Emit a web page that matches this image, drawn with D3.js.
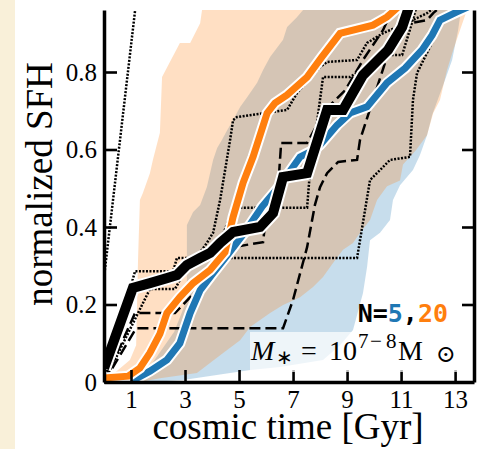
<!DOCTYPE html>
<html>
<head>
<meta charset="utf-8">
<script src="https://cdn.jsdelivr.net/npm/d3@7"></script>
<style>
  html, body { margin: 0; padding: 0; background: #ffffff; }
  svg { display: block; }
</style>
</head>
<body>
<svg id="chart" width="481" height="449"></svg>
<script>
// cosmic time [Gyr], normalized cumulative SFH
const xTicks = [1, 3, 5, 7, 9, 11, 13];
const yTicks = [0, 0.2, 0.4, 0.6, 0.8];

// true (reference) SFH
const trueSFH = [[0,0.035],[1.07,0.243],[1.70,0.255],[2.33,0.268],[2.70,0.276],[3.07,0.302],[3.56,0.32],[3.93,0.333],[4.30,0.359],[4.78,0.387],[5.78,0.40],[6.26,0.436],[6.63,0.529],[7.52,0.539],[8.26,0.702],[8.85,0.702],[9.59,0.792],[10.22,0.836],[10.52,0.857],[11.04,0.916],[11.45,1.0]];

// median recovered SFH, N=20
const medianN20 = [[0,0.01],[0.9,0.015],[1.33,0.036],[1.70,0.075],[2.07,0.124],[2.33,0.178],[2.81,0.219],[3.30,0.255],[3.93,0.289],[4.48,0.335],[4.78,0.426],[5.15,0.514],[5.52,0.581],[6.04,0.694],[6.33,0.72],[6.78,0.741],[7.52,0.787],[8.07,0.839],[8.74,0.90],[9.96,0.921],[10.48,0.942],[10.85,0.965],[11.15,1.0]];

// median recovered SFH, N=5
const medianN5 = [[0.96,0],[1.70,0.028],[2.33,0.057],[2.81,0.10],[3.19,0.178],[3.56,0.237],[4.04,0.281],[4.56,0.327],[5.22,0.387],[5.85,0.452],[6.52,0.508],[7.26,0.581],[7.8,0.600],[8.0,0.612],[8.63,0.663],[9.11,0.694],[9.74,0.71],[10.48,0.772],[11.15,0.81],[11.78,0.857],[12.15,0.895],[12.44,0.934],[13.07,0.955],[13.7,0.975]];

// spread of recovered SFHs, N=20 (upper / lower envelope)
const bandN20Upper = [[0,0],[0.52,0.031],[0.96,0.057],[1.19,0.095],[1.26,0.315],[1.33,0.47],[1.44,0.488],[1.70,0.539],[1.81,0.573],[2.07,0.643],[2.15,0.787],[2.44,0.826],[2.81,0.875],[3.19,0.875],[3.56,0.926],[3.63,0.96],[3.8,1.0]];
const bandN20Lower = [[1.33,0],[2.07,0.01],[3.44,0.023],[4.41,0.075],[5.04,0.108],[5.41,0.142],[6.15,0.178],[6.63,0.199],[7.26,0.219],[7.74,0.245],[8.11,0.271],[8.48,0.307],[8.85,0.341],[9.22,0.359],[9.48,0.385],[9.85,0.418],[10.11,0.47],[10.48,0.505],[10.96,0.52],[11.07,0.561],[11.55,0.598],[11.96,0.637],[12.19,0.694],[12.44,0.728],[12.70,0.805],[12.93,0.857],[13.19,0.91],[13.44,0.96],[13.7,1.0]];

// spread of recovered SFHs, N=5 (upper / lower envelope)
const bandN5Upper = [[1.0,0],[1.8,0.05],[2.6,0.13],[3.07,0.212],[3.07,0.405],[3.30,0.439],[3.56,0.457],[3.81,0.503],[4.04,0.573],[4.19,0.604],[4.37,0.625],[4.56,0.65],[4.78,0.676],[5.04,0.71],[5.30,0.735],[5.67,0.772],[5.89,0.805],[6.15,0.839],[6.63,0.883],[6.78,0.916],[7.15,0.942],[7.37,0.96],[7.63,1.0]];
const bandN5Lower = [[1.70,0],[2.93,0.005],[4.67,0.023],[5.41,0.031],[6.52,0.039],[8.11,0.057],[8.74,0.095],[9.22,0.134],[9.59,0.23],[9.74,0.297],[9.85,0.366],[10.22,0.385],[10.59,0.418],[10.70,0.47],[10.96,0.508],[11.44,0.547],[11.70,0.586],[11.96,0.637],[12.15,0.689],[12.63,0.78],[12.89,0.831],[13.11,0.908],[13.22,0.96],[13.37,1.0]];

// individual input SFHs (dotted)
const dottedSFHs = [
  [[0,0.27],[1.22,1.0]],
  [[0,0],[1.15,0.286],[2.56,0.286],[2.70,0.32],[9.37,0.32],[9.85,0.521],[10.59,0.573],[11.33,0.581],[11.44,0.728],[11.59,0.797],[12.07,0.865],[12.56,0.934],[12.74,0.952],[13.19,0.96],[13.7,0.965]],
  [[0,0],[1.70,0.24],[2.63,0.24],[2.81,0.263],[3.81,0.359],[4.04,0.385],[4.30,0.47],[4.67,0.625],[4.78,0.676],[4.93,0.684],[6.78,0.702],[7.15,0.746],[8.0,0.813],[8.26,0.826],[9.37,0.831],[9.74,0.875],[10.33,0.90],[10.85,0.916],[11.44,0.934],[11.96,0.952],[12.4,0.975]],
  [[0,0.04],[1.07,0.24],[3.56,0.31],[4.3,0.36],[4.78,0.45],[7.52,0.45],[7.6,0.52],[8.11,0.787],[9.11,0.787],[10.48,0.844],[11.04,0.844],[11.33,0.91],[11.7,1.0]]
];

// individual input SFHs (dashed)
const dashedSFHs = [
  [[0,0],[1.19,0.139],[6.63,0.139],[7.0,0.212],[7.52,0.348],[7.81,0.457],[8.0,0.503],[8.26,0.539],[8.67,0.568],[9.37,0.573],[9.48,0.625],[9.96,0.728],[10.48,0.839],[10.85,0.90],[11.33,0.926],[11.96,0.934],[12.19,0.952],[12.63,0.978]],
  [[0,0],[1.15,0.178],[2.63,0.178],[3.44,0.237],[4.41,0.307],[4.78,0.348],[5.89,0.361],[5.96,0.405],[6.44,0.495],[6.56,0.617],[7.52,0.617],[8.19,0.702],[8.93,0.753],[9.59,0.831],[10.33,0.908],[10.67,0.96],[10.9,1.0]]
];

const C_BLUE = "#1f77b4", C_ORANGE = "#ff7f0e";

const svg = d3.select("#chart");

// paper strip on the left edge
svg.append("rect").attr("x", 0).attr("y", 0).attr("width", 15).attr("height", 449).attr("fill", "#f9f0d9");

const x = d3.scaleLinear().domain([0, 13.7]).range([104, 474]);
const y = d3.scaleLinear().domain([0, 0.96]).range([382, 10]);

svg.append("defs").append("clipPath").attr("id", "plotclip")
  .append("rect").attr("x", 104).attr("y", 10).attr("width", 370).attr("height", 372);

const plot = svg.append("g").attr("clip-path", "url(#plotclip)");

const line = d3.line().x(d => x(d[0])).y(d => y(d[1]));
const band = (upper, lower) => line(upper.concat(lower.slice().reverse())) + "Z";

plot.append("path").attr("d", band(bandN5Upper, bandN5Lower))
  .attr("fill", C_BLUE).attr("fill-opacity", 0.25);
plot.append("path").attr("d", band(bandN20Upper, bandN20Lower))
  .attr("fill", C_ORANGE).attr("fill-opacity", 0.25);

dottedSFHs.forEach(s => plot.append("path").attr("d", line(s))
  .attr("fill", "none").attr("stroke", "#000").attr("stroke-width", 2.5)
  .attr("stroke-dasharray", "2,1.5"));
dashedSFHs.forEach(s => plot.append("path").attr("d", line(s))
  .attr("fill", "none").attr("stroke", "#000").attr("stroke-width", 2.5)
  .attr("stroke-dasharray", "11,5"));

function outlined(data, color, w, halo) {
  plot.append("path").attr("d", line(data)).attr("fill", "none")
    .attr("stroke", "#fff").attr("stroke-width", w + halo).attr("stroke-linejoin", "miter");
  plot.append("path").attr("d", line(data)).attr("fill", "none")
    .attr("stroke", color).attr("stroke-width", w).attr("stroke-linejoin", "miter");
}
outlined(medianN5, C_BLUE, 7, 4);
outlined(medianN20, C_ORANGE, 7, 4);
outlined(trueSFH, "#000", 10, 4);

// axes
const serif = "'Liberation Serif', 'Times New Roman', serif";
const gx = svg.append("g").attr("transform", "translate(0,382)")
  .call(d3.axisBottom(x).tickValues(xTicks).tickSize(-12).tickSizeOuter(0).tickPadding(8).tickFormat(d3.format("d")));
const gy = svg.append("g").attr("transform", "translate(104,0)")
  .call(d3.axisLeft(y).tickValues(yTicks).tickSize(-13).tickSizeOuter(0).tickPadding(7)
    .tickFormat(d => d === 0 ? "0" : d.toFixed(1)));
const gr = svg.append("g").attr("transform", "translate(474,0)")
  .call(d3.axisRight(y).tickValues(yTicks.slice(1)).tickSize(-12).tickSizeOuter(0).tickFormat(""));

[gx, gy, gr].forEach(g => {
  g.attr("font-family", serif).attr("font-size", 25);
  g.select(".domain").attr("stroke", "#000").attr("stroke-width", 3.5);
  g.selectAll(".tick line").attr("stroke", "#000").attr("stroke-width", 2.6);
  g.selectAll(".tick text").attr("fill", "#000");
});

// axis titles
svg.append("text").attr("x", 288).attr("y", 439).attr("text-anchor", "middle")
  .attr("font-family", serif).attr("font-size", 37).attr("fill", "#000").text("cosmic time [Gyr]");
svg.append("text").attr("transform", "translate(52,184) rotate(-90)").attr("text-anchor", "middle")
  .attr("font-family", serif).attr("font-size", 37).attr("fill", "#000").text("normalized SFH");

// sample size annotation
const mono = "'DejaVu Sans Mono', monospace";
const nt = svg.append("text").attr("x", 448).attr("y", 322).attr("text-anchor", "end")
  .attr("font-family", mono).attr("font-weight", "bold").attr("font-size", 25);
nt.append("tspan").attr("fill", "#000").text("N=");
nt.append("tspan").attr("fill", C_BLUE).text("5");
nt.append("tspan").attr("fill", "#000").text(",");
nt.append("tspan").attr("fill", C_ORANGE).text("20");

// stellar mass bin label on a translucent box
svg.append("rect").attr("x", 250).attr("y", 332).attr("width", 214).attr("height", 40)
  .attr("fill", "#fff").attr("fill-opacity", 0.7);
const mt = svg.append("text").attr("y", 360).attr("font-family", serif).attr("font-size", 28).attr("fill", "#000");
mt.append("tspan").attr("x", 251).attr("font-style", "italic").text("M");
mt.append("tspan").attr("x", 276).attr("dy", 4).attr("font-size", 20).text("\u2217");
mt.append("tspan").attr("x", 301).attr("dy", -4).text("=");
mt.append("tspan").attr("x", 329).text("10");
mt.append("tspan").attr("x", 358).attr("dy", -12).attr("font-size", 21).text("7");
mt.append("tspan").attr("x", 370).attr("font-size", 21).text("\u2212");
mt.append("tspan").attr("x", 386).attr("font-size", 21).text("8");
mt.append("tspan").attr("x", 398).attr("dy", 12).text("M");
mt.append("tspan").attr("x", 436).attr("dy", 2).attr("font-size", 24)
  .attr("font-family", "'DejaVu Serif', serif").text("\u2299");
</script>
</body>
</html>
